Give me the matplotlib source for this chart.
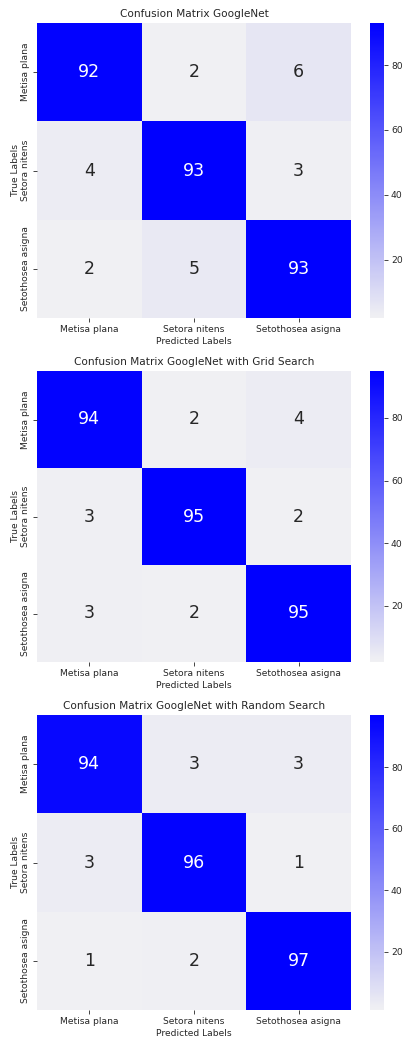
import numpy as np
import matplotlib
matplotlib.use("Agg")
import matplotlib.pyplot as plt
import seaborn as sns

labels = ["Metisa plana", "Setora nitens", "Setothosea asigna"]
titles = ["Confusion Matrix GoogleNet",
          "Confusion Matrix GoogleNet with Grid Search",
          "Confusion Matrix GoogleNet with Random Search"]
cm_base = [[92, 2, 6], [4, 93, 3], [2, 5, 93]]
cm_grid = [[94, 2, 4], [3, 95, 2], [3, 2, 95]]
cm_random = [[94, 3, 3], [3, 96, 1], [1, 2, 97]]
matrices = [cm_base, cm_grid, cm_random]

W, H = 403, 1039
fig = plt.figure(figsize=(W / 100, H / 100), dpi=100)
cmap = sns.light_palette("blue", as_cmap=True)

# (top, bottom) pixel positions of each heatmap
rows = [(23, 318), (371, 662), (715, 1010)]
x0, x1 = 37, 351
cx0, cx1 = 370, 384

for mat, title, (t, b) in zip(matrices, titles, rows):
    ax = fig.add_axes([x0 / W, 1 - b / H, (x1 - x0) / W, (b - t) / H])
    cax = fig.add_axes([cx0 / W, 1 - b / H, (cx1 - cx0) / W, (b - t) / H])
    sns.heatmap(np.array(mat), annot=True, fmt="d", cmap=cmap, ax=ax, cbar_ax=cax,
                xticklabels=labels, yticklabels=labels,
                annot_kws={"fontsize": 12.5})
    ax.set_title(title, fontsize=7.6, color="#262626", pad=4)
    ax.set_xlabel("Predicted Labels", fontsize=6.6, color="#262626", labelpad=2)
    ax.set_ylabel("True Labels", fontsize=6.6, color="#262626", labelpad=1)
    ax.tick_params(axis="both", labelsize=6.6, colors="#262626", length=3, width=0.6, pad=2)
    plt.setp(ax.get_yticklabels(), rotation=90, va="center")
    plt.setp(ax.get_xticklabels(), rotation=0)
    cax.tick_params(labelsize=6.6, colors="#262626", length=3, width=0.6, pad=2)
    cax.set_yticks([20, 40, 60, 80])
    for s in cax.spines.values():
        s.set_visible(False)

fig.savefig("out.png", dpi=100)
